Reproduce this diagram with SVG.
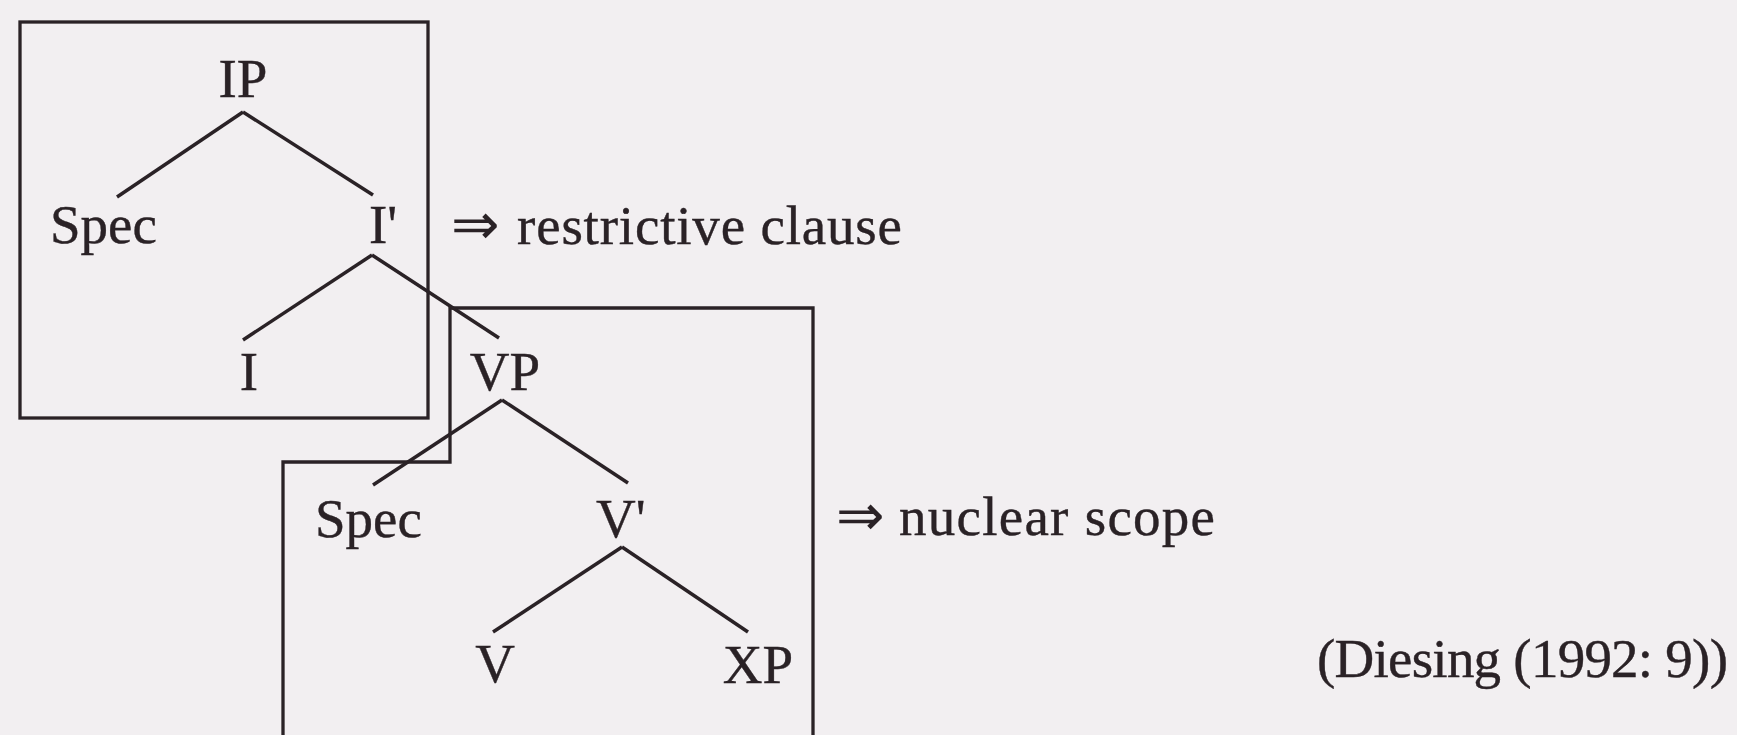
<svg xmlns="http://www.w3.org/2000/svg" width="1737" height="735" viewBox="0 0 1737 735">
<style>
.t{font-family:"Liberation Serif","Times New Roman",serif;font-size:55px;fill:#2a2226;stroke:#2a2226;stroke-width:0.4}
.ar{font-family:"DejaVu Sans",sans-serif;font-size:58px;fill:#2a2226}
.m{text-anchor:middle}
.ln{stroke:#2a2226;stroke-width:3.5;fill:none;stroke-linecap:butt}
.bx{stroke:#2a2226;stroke-width:3.3;fill:none}
</style>
<rect x="0" y="0" width="1737" height="735" fill="#f2eff1"/>
<g id="boxes">
<rect id="box-restrictive" class="bx" x="20" y="22" width="408" height="396"/>
<polyline id="box-nuclear" class="bx" points="283,740 283,462 450,462 450,308 813,308 813,740"/>
</g>
<g id="connectors">
<line class="ln" x1="243" y1="112" x2="117" y2="197"/>
<line class="ln" x1="243" y1="112" x2="373" y2="195"/>
<line class="ln" x1="372" y1="255" x2="243" y2="340"/>
<line class="ln" x1="372" y1="255" x2="499" y2="338"/>
<line class="ln" x1="502" y1="400" x2="373" y2="485"/>
<line class="ln" x1="502" y1="400" x2="628" y2="483"/>
<line class="ln" x1="622" y1="547" x2="493" y2="632"/>
<line class="ln" x1="622" y1="547" x2="748" y2="632"/>
</g>
<g id="node-IP"><text class="t m" x="243" y="97">IP</text></g>
<g id="node-Spec1"><text class="t" x="50" y="243">Spec</text></g>
<g id="node-Ibar"><text class="t" x="369" y="243">I'</text></g>
<g id="node-I"><text class="t m" x="249" y="390">I</text></g>
<g id="node-VP"><text class="t m" x="505" y="390">VP</text></g>
<g id="node-Spec2"><text class="t" x="315" y="537">Spec</text></g>
<g id="node-Vbar"><text class="t" x="596" y="537">V'</text></g>
<g id="node-V"><text class="t m" x="495" y="682">V</text></g>
<g id="node-XP"><text class="t m" x="758" y="683">XP</text></g>
<g id="label-restrictive">
<text class="ar" x="451" y="244">⇒</text>
<text class="t" x="517" y="244" textLength="385" lengthAdjust="spacing">restrictive clause</text>
</g>
<g id="label-nuclear">
<text class="ar" x="836" y="535">⇒</text>
<text class="t" x="899" y="535" textLength="316" lengthAdjust="spacing">nuclear scope</text>
</g>
<g id="citation"><text class="t" x="1317" y="677" textLength="411" lengthAdjust="spacing">(Diesing (1992: 9))</text></g>
</svg>
